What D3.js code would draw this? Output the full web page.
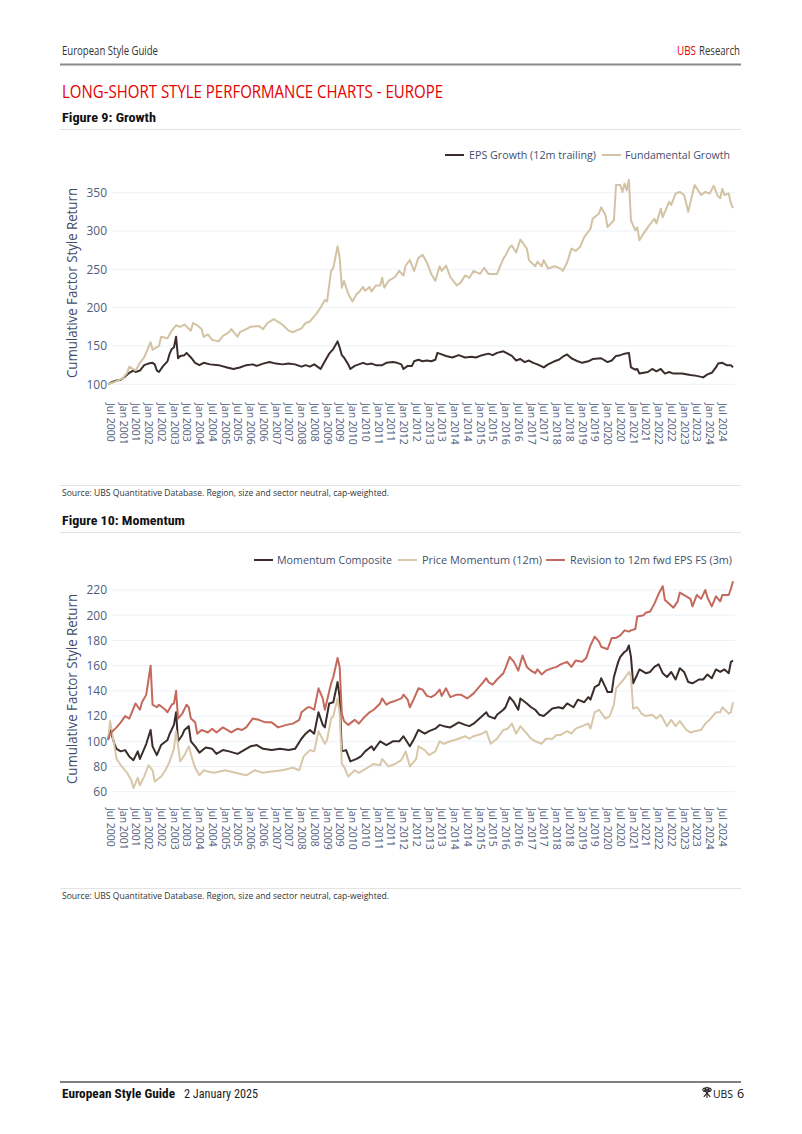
<!DOCTYPE html>
<html><head><meta charset="utf-8">
<script src="https://cdn.jsdelivr.net/npm/d3@7"></script>
<style>
body{margin:0;background:#fff;}
svg{display:block;}
text{font-family:"Open Sans","Noto Sans",sans-serif;}
.narrow{font-family:"Liberation Sans Narrow","Roboto Condensed","Open Sans",sans-serif;}
</style></head>
<body>
<svg id="page" width="802" height="1134"></svg>
<script>
// ---------------- DATA ----------------
const yTicksGrowth = [100, 150, 200, 250, 300, 350];
const yTicksMomentum = [60, 80, 100, 120, 140, 160, 180, 200, 220];
const xTickFirst = "2000-07", xTickLast = "2024-07", xTickStepMonths = 6;

const epsGrowth = [["2000-06",100],["2000-08",103],["2000-10",105],["2000-12",106],["2001-02",110],["2001-04",115],["2001-06",118],["2001-07",116],["2001-09",118],["2001-11",125],["2002-01",127],["2002-03",128],["2002-04",126],["2002-05",118],["2002-06",116],["2002-08",124],["2002-10",130],["2002-11",140],["2002-12",146],["2003-01",148],["2003-02",162],["2003-03",134],["2003-04",137],["2003-06",138],["2003-07",141],["2003-09",135],["2003-11",128],["2004-01",125],["2004-03",128],["2004-06",126],["2004-10",125],["2005-02",122],["2005-05",120],["2005-08",122],["2005-11",125],["2006-02",126],["2006-04",124],["2006-07",127],["2006-10",129],["2007-01",127],["2007-04",126],["2007-07",127],["2007-10",126],["2008-01",123],["2008-03",125],["2008-05",123],["2008-07",126],["2008-09",122],["2008-10",120],["2008-12",130],["2009-02",140],["2009-04",146],["2009-06",156],["2009-07",148],["2009-08",138],["2009-09",135],["2009-11",126],["2009-12",120],["2010-02",124],["2010-04",126],["2010-06",128],["2010-08",126],["2010-10",127],["2010-12",125],["2011-03",125],["2011-05",128],["2011-08",129],["2011-10",128],["2011-12",126],["2012-01",120],["2012-03",124],["2012-05",124],["2012-06",130],["2012-08",132],["2012-10",130],["2012-12",131],["2013-02",130],["2013-04",132],["2013-05",141],["2013-07",139],["2013-09",137],["2013-12",135],["2014-03",138],["2014-06",135],["2014-09",136],["2014-11",135],["2015-02",138],["2015-05",140],["2015-07",138],["2015-09",141],["2015-12",143],["2016-02",140],["2016-04",137],["2016-06",131],["2016-08",133],["2016-10",129],["2016-12",131],["2017-02",128],["2017-04",126],["2017-07",122],["2017-09",126],["2017-12",130],["2018-02",132],["2018-04",136],["2018-06",139],["2018-08",134],["2018-11",130],["2019-01",128],["2019-04",130],["2019-06",133],["2019-10",134],["2020-01",129],["2020-03",131],["2020-05",137],["2020-07",138],["2020-09",140],["2020-11",141],["2020-12",122],["2021-02",119],["2021-03",120],["2021-04",114],["2021-06",115],["2021-08",116],["2021-10",120],["2021-12",117],["2022-02",120],["2022-04",114],["2022-06",116],["2022-08",114],["2022-12",114],["2023-04",112],["2023-07",111],["2023-10",109],["2023-12",113],["2024-02",115],["2024-04",122],["2024-05",127],["2024-07",128],["2024-09",125],["2024-11",125],["2024-12",122]];

const fundamentalGrowth = [["2000-06",100],["2000-09",103],["2001-01",108],["2001-03",115],["2001-04",123],["2001-07",118],["2001-09",128],["2001-11",135],["2002-02",155],["2002-03",145],["2002-06",150],["2002-07",162],["2002-10",160],["2002-12",170],["2003-02",177],["2003-04",175],["2003-06",178],["2003-09",170],["2003-10",180],["2003-12",177],["2004-02",172],["2004-03",162],["2004-05",165],["2004-07",158],["2004-10",156],["2004-12",163],["2005-03",168],["2005-04",172],["2005-07",162],["2005-08",168],["2005-11",172],["2006-01",175],["2006-05",176],["2006-07",172],["2006-09",180],["2006-12",185],["2007-04",178],["2007-07",170],["2007-09",168],["2008-01",173],["2008-03",180],["2008-05",182],["2008-08",192],["2008-10",200],["2008-12",210],["2009-01",208],["2009-03",248],["2009-04",252],["2009-06",280],["2009-07",265],["2009-08",226],["2009-09",235],["2009-11",218],["2010-01",208],["2010-03",218],["2010-04",220],["2010-06",227],["2010-07",222],["2010-09",227],["2010-10",221],["2010-12",229],["2011-02",229],["2011-03",239],["2011-04",226],["2011-06",235],["2011-09",240],["2011-11",248],["2012-01",242],["2012-02",255],["2012-04",262],["2012-06",248],["2012-08",265],["2012-10",269],["2012-12",259],["2013-02",244],["2013-04",235],["2013-06",254],["2013-07",248],["2013-09",255],["2013-11",240],["2014-02",229],["2014-04",233],["2014-06",242],["2014-08",239],["2014-10",248],["2015-01",244],["2015-03",252],["2015-05",244],["2015-09",244],["2015-12",264],["2016-01",268],["2016-03",279],["2016-04",281],["2016-06",272],["2016-08",289],["2016-11",277],["2016-12",262],["2017-03",254],["2017-04",260],["2017-06",254],["2017-07",262],["2017-09",251],["2017-12",254],["2018-03",251],["2018-04",248],["2018-06",259],["2018-08",277],["2018-10",274],["2018-12",279],["2019-02",292],["2019-05",303],["2019-06",316],["2019-09",323],["2019-10",331],["2019-12",321],["2020-01",305],["2020-04",314],["2020-05",360],["2020-07",360],["2020-08",351],["2020-09",362],["2020-10",353],["2020-11",367],["2020-12",314],["2021-02",301],["2021-03",305],["2021-04",288],["2021-06",297],["2021-08",305],["2021-11",316],["2021-12",310],["2022-02",329],["2022-03",318],["2022-06",338],["2022-07",334],["2022-09",349],["2022-11",351],["2023-01",347],["2023-03",325],["2023-05",349],["2023-06",360],["2023-09",347],["2023-11",351],["2024-01",349],["2024-03",359],["2024-05",345],["2024-06",343],["2024-07",355],["2024-08",347],["2024-10",349],["2024-11",336],["2024-12",330]];

const momentumComposite = [["2000-06",101],["2000-07",109],["2000-09",98],["2000-10",94],["2000-12",92],["2001-02",93],["2001-04",88],["2001-06",85],["2001-08",92],["2001-09",86],["2001-11",94],["2001-12",98],["2002-02",109],["2002-03",96],["2002-05",89],["2002-07",97],["2002-10",101],["2002-11",106],["2003-01",113],["2003-02",123],["2003-03",100],["2003-05",105],["2003-06",109],["2003-08",112],["2003-09",100],["2003-11",96],["2004-01",91],["2004-04",95],["2004-07",94],["2004-09",90],["2004-12",93],["2005-03",92],["2005-07",90],["2005-10",93],["2006-01",96],["2006-04",97],["2006-07",94],["2006-11",93],["2007-03",94],["2007-07",93],["2007-10",94],["2008-01",102],["2008-03",106],["2008-05",109],["2008-07",106],["2008-09",123],["2008-11",113],["2008-12",111],["2009-02",130],["2009-04",131],["2009-06",147],["2009-07",135],["2009-08",92],["2009-10",93],["2009-12",84],["2010-03",86],["2010-05",88],["2010-07",92],["2010-10",96],["2010-11",93],["2011-02",100],["2011-05",97],["2011-08",100],["2011-11",100],["2012-01",104],["2012-04",96],["2012-06",102],["2012-08",109],["2012-11",106],["2013-01",108],["2013-04",110],["2013-06",113],["2013-08",112],["2013-11",111],["2014-01",113],["2014-03",115],["2014-06",113],["2014-08",112],["2014-10",114],["2015-02",120],["2015-04",123],["2015-05",120],["2015-08",118],["2015-09",121],["2015-12",125],["2016-01",127],["2016-03",135],["2016-05",131],["2016-07",125],["2016-08",134],["2016-11",130],["2017-01",127],["2017-03",125],["2017-05",121],["2017-07",120],["2017-09",123],["2017-11",126],["2018-02",127],["2018-04",126],["2018-06",130],["2018-09",127],["2018-11",133],["2019-02",131],["2019-04",135],["2019-05",133],["2019-07",143],["2019-09",145],["2019-10",150],["2019-12",143],["2020-01",139],["2020-03",139],["2020-04",151],["2020-06",163],["2020-07",167],["2020-09",171],["2020-10",172],["2020-11",176],["2020-12",167],["2021-01",146],["2021-03",153],["2021-04",157],["2021-07",154],["2021-09",155],["2021-11",159],["2022-01",161],["2022-03",154],["2022-05",151],["2022-07",155],["2022-09",149],["2022-11",158],["2023-01",155],["2023-03",147],["2023-05",146],["2023-08",149],["2023-10",149],["2023-12",153],["2024-02",150],["2024-04",157],["2024-06",155],["2024-08",157],["2024-10",154],["2024-11",163],["2024-12",164]];

const priceMomentum = [["2000-06",101],["2000-07",116],["2000-09",96],["2000-10",86],["2000-12",81],["2001-03",75],["2001-05",69],["2001-06",63],["2001-08",71],["2001-09",65],["2001-11",72],["2002-01",81],["2002-03",77],["2002-04",68],["2002-07",72],["2002-09",77],["2002-11",84],["2003-01",94],["2003-02",108],["2003-04",84],["2003-06",89],["2003-08",96],["2003-10",84],["2003-11",79],["2004-01",73],["2004-03",77],["2004-05",76],["2004-08",75],["2005-01",77],["2005-06",75],["2005-11",73],["2006-03",77],["2006-07",75],["2006-11",76],["2007-04",77],["2007-09",79],["2007-12",77],["2008-02",88],["2008-05",93],["2008-07",92],["2008-09",108],["2008-12",98],["2009-01",101],["2009-03",118],["2009-04",120],["2009-06",134],["2009-07",122],["2009-08",82],["2009-09",80],["2009-11",72],["2010-02",77],["2010-04",75],["2010-06",77],["2010-09",80],["2010-11",82],["2011-02",81],["2011-03",86],["2011-06",80],["2011-09",82],["2011-12",85],["2012-02",92],["2012-04",80],["2012-07",86],["2012-08",96],["2012-11",93],["2013-01",89],["2013-04",92],["2013-06",100],["2013-08",98],["2013-11",100],["2014-03",102],["2014-06",104],["2014-08",102],["2014-10",104],["2015-02",106],["2015-04",108],["2015-06",98],["2015-09",102],["2015-12",109],["2016-02",110],["2016-04",114],["2016-06",106],["2016-08",112],["2016-11",106],["2017-01",102],["2017-03",100],["2017-06",98],["2017-08",102],["2017-11",102],["2018-01",105],["2018-03",105],["2018-06",108],["2018-08",106],["2018-10",110],["2019-01",112],["2019-04",114],["2019-05",110],["2019-07",123],["2019-09",125],["2019-12",118],["2020-02",120],["2020-04",129],["2020-05",142],["2020-07",146],["2020-09",150],["2020-11",155],["2020-12",151],["2021-01",126],["2021-03",127],["2021-05",122],["2021-07",120],["2021-10",121],["2021-12",118],["2022-02",121],["2022-05",112],["2022-07",117],["2022-09",112],["2022-11",116],["2023-02",109],["2023-04",107],["2023-06",108],["2023-09",109],["2023-11",114],["2024-01",117],["2024-04",123],["2024-06",123],["2024-07",127],["2024-10",122],["2024-11",123],["2024-12",131]];

const revision12mFwd = [["2000-06",101],["2000-07",106],["2000-10",111],["2000-12",115],["2001-02",120],["2001-04",118],["2001-05",122],["2001-07",130],["2001-09",125],["2001-10",131],["2001-12",137],["2002-02",160],["2002-03",129],["2002-05",127],["2002-06",129],["2002-09",125],["2002-10",123],["2002-12",129],["2003-01",130],["2003-02",140],["2003-03",118],["2003-05",122],["2003-07",129],["2003-08",127],["2003-09",118],["2003-11",115],["2003-12",106],["2004-02",109],["2004-05",107],["2004-07",110],["2004-09",107],["2004-12",111],["2005-02",109],["2005-04",107],["2005-07",110],["2005-09",109],["2005-11",111],["2006-02",118],["2006-05",117],["2006-08",115],["2006-11",115],["2007-02",111],["2007-06",113],["2007-09",114],["2007-12",117],["2008-01",123],["2008-04",127],["2008-05",127],["2008-07",125],["2008-09",142],["2008-11",134],["2008-12",125],["2009-03",146],["2009-04",151],["2009-06",166],["2009-07",159],["2009-08",122],["2009-09",116],["2009-11",113],["2010-02",117],["2010-04",114],["2010-06",118],["2010-09",123],["2010-11",125],["2011-02",130],["2011-03",134],["2011-05",129],["2011-07",131],["2011-09",132],["2011-12",134],["2012-01",137],["2012-03",133],["2012-04",127],["2012-06",134],["2012-08",142],["2012-10",141],["2012-12",136],["2013-02",135],["2013-04",137],["2013-06",141],["2013-07",136],["2013-09",142],["2013-11",135],["2014-02",137],["2014-04",137],["2014-07",134],["2014-10",138],["2014-12",142],["2015-02",146],["2015-04",150],["2015-05",147],["2015-07",145],["2015-09",149],["2015-12",154],["2016-01",158],["2016-03",167],["2016-05",163],["2016-07",156],["2016-09",168],["2016-11",159],["2017-01",156],["2017-03",154],["2017-04",157],["2017-06",153],["2017-08",156],["2017-11",158],["2018-01",159],["2018-03",161],["2018-06",163],["2018-08",159],["2018-10",164],["2019-01",163],["2019-03",166],["2019-05",176],["2019-07",183],["2019-09",179],["2019-10",175],["2020-01",173],["2020-03",182],["2020-05",182],["2020-07",184],["2020-09",188],["2020-11",187],["2020-12",188],["2021-02",189],["2021-03",199],["2021-06",200],["2021-07",202],["2021-09",203],["2021-11",209],["2022-01",217],["2022-03",223],["2022-04",212],["2022-06",209],["2022-08",206],["2022-10",211],["2022-11",218],["2023-02",215],["2023-04",213],["2023-05",207],["2023-07",216],["2023-09",213],["2023-11",220],["2023-12",214],["2024-02",207],["2024-04",215],["2024-06",211],["2024-07",216],["2024-10",216],["2024-11",221],["2024-12",227]];

const growthSeries = [
  {name:"EPS Growth (12m trailing)", data: epsGrowth, color:"#3a2d2b"},
  {name:"Fundamental Growth", data: fundamentalGrowth, color:"#d3c3a4"}
];
const momentumSeries = [
  {name:"Momentum Composite", data: momentumComposite, color:"#3a2d2b"},
  {name:"Price Momentum (12m)", data: priceMomentum, color:"#d8c7a8"},
  {name:"Revision to 12m fwd EPS FS (3m)", data: revision12mFwd, color:"#c4695b"}
];

// ---------------- DRAW ----------------
const svg = d3.select("#page");
const parse = d3.timeParse("%Y-%m");
// shrink the font if the natural width is much wider than the target, then pin the width
function fit(sel, w, maxSquash = 1.04) {
  const len = sel.node().getComputedTextLength();
  if (len > w * maxSquash) {
    const fs = parseFloat(sel.attr("font-size"));
    sel.attr("font-size", (fs * w * maxSquash / len).toFixed(2));
  }
  return sel.attr("textLength", w).attr("lengthAdjust", "spacingAndGlyphs");
}

svg.append("rect").attr("width", 802).attr("height", 1134).attr("fill", "#fff");

// header
fit(svg.append("text").attr("x", 62).attr("y", 55).attr("font-size", 12).attr("fill", "#333").text("European Style Guide"), 96, 1.3);
fit(svg.append("text").attr("x", 677).attr("y", 55).attr("font-size", 12).attr("fill", "#e60000").text("UBS"), 19, 1.3);
fit(svg.append("text").attr("x", 699).attr("y", 55).attr("font-size", 12).attr("fill", "#333").text("Research"), 41, 1.3);
svg.append("line").attr("x1", 60).attr("x2", 741).attr("y1", 64.5).attr("y2", 64.5).attr("stroke", "#8a8a8a").attr("stroke-width", 2);

fit(svg.append("text").attr("x", 62).attr("y", 98).attr("font-size", 18).attr("fill", "#e60000").text("LONG-SHORT STYLE PERFORMANCE CHARTS - EUROPE"), 381, 1.35);

const x = d3.scaleTime().domain([parse("2000-06"), parse("2024-12")]).range([108, 733]);
const xTicks = d3.timeMonth.range(parse(xTickFirst), d3.timeMonth.offset(parse(xTickLast), 1), xTickStepMonths);

function figure(cfg) {
  // title + rules
  fit(svg.append("text").attr("class", "narrow").attr("x", 62).attr("y", cfg.titleY).attr("font-size", 13).attr("font-weight", "bold").attr("fill", "#111").text(cfg.title), cfg.titleW);
  svg.append("line").attr("x1", 60).attr("x2", 741).attr("y1", cfg.titleY + 7.5).attr("y2", cfg.titleY + 7.5).attr("stroke", "#e3e3e3").attr("stroke-width", 1);

  const y = d3.scaleLinear().domain(cfg.yDomain).range(cfg.yRange);

  // gridlines
  svg.append("g").selectAll("line").data(cfg.yTicks).join("line")
    .attr("x1", 112).attr("x2", 735)
    .attr("y1", d => y(d)).attr("y2", d => y(d))
    .attr("stroke", "#edf1f7").attr("stroke-width", 1);

  // y axis labels
  const ya = svg.append("g").attr("transform", "translate(107,0)")
    .call(d3.axisLeft(y).tickValues(cfg.yTicks).tickSize(0).tickPadding(0));
  ya.select(".domain").remove();
  ya.selectAll("text").attr("font-family", "'Open Sans',sans-serif").attr("font-size", 12).attr("fill", "#4f5d7d");

  // y title
  fit(svg.append("text").attr("transform", `translate(77,${cfg.yTitleC}) rotate(-90)`)
    .attr("text-anchor", "middle").attr("font-size", 14.5).attr("fill", "#3f4d6d")
    .text("Cumulative Factor Style Return"), 190);

  // x axis labels
  const xa = svg.append("g").attr("transform", `translate(0,${cfg.xLabelTop})`)
    .call(d3.axisBottom(x).tickValues(xTicks).tickFormat(d3.timeFormat("%b %Y")).tickSize(0));
  xa.select(".domain").remove();
  xa.selectAll("text")
    .attr("x", 0).attr("y", 0).attr("dy", "0.36em")
    .attr("transform", "rotate(90)")
    .style("text-anchor", "start")
    .attr("font-family", "'Open Sans',sans-serif").attr("font-size", 10.5).attr("fill", "#4f5d7d");

  // lines
  const line = d3.line().x(d => x(parse(d[0]))).y(d => y(d[1]));
  svg.append("g").selectAll("path").data(cfg.series).join("path")
    .attr("d", d => line(d.data)).attr("fill", "none")
    .attr("stroke", d => d.color).attr("stroke-width", 2)
    .attr("stroke-linejoin", "round");

  // legend
  const lg = svg.append("g");
  cfg.series.forEach((s, i) => {
    const L = cfg.legend[i];
    lg.append("line").attr("x1", L[0]).attr("x2", L[0] + 19).attr("y1", cfg.legendY).attr("y2", cfg.legendY)
      .attr("stroke", s.color).attr("stroke-width", 2);
    fit(lg.append("text").attr("x", L[1]).attr("y", cfg.legendY + 4).attr("font-size", 11.5).attr("fill", "#44506e").text(s.name), L[2]);
  });

  // source
  svg.append("line").attr("x1", 60).attr("x2", 741).attr("y1", cfg.sourceY - 10.5).attr("y2", cfg.sourceY - 10.5).attr("stroke", "#e3e3e3").attr("stroke-width", 1);
  fit(svg.append("text").attr("x", 62).attr("y", cfg.sourceY).attr("font-size", 9).attr("fill", "#333")
    .text("Source: UBS Quantitative Database. Region, size and sector neutral, cap-weighted."), 327);
}

figure({
  title: "Figure 9: Growth", titleY: 122, titleW: 94,
  yDomain: [100, 350], yRange: [384.3, 192.7], yTicks: yTicksGrowth, yTitleC: 283,
  xLabelTop: 403, series: growthSeries, legendY: 155,
  legend: [[445, 469, 127], [602, 625, 105]],
  sourceY: 496
});

figure({
  title: "Figure 10: Momentum", titleY: 525, titleW: 123,
  yDomain: [60, 220], yRange: [791.7, 590], yTicks: yTicksMomentum, yTitleC: 689,
  xLabelTop: 808, series: momentumSeries, legendY: 560,
  legend: [[254, 277, 115], [398, 422, 120], [546, 570, 162]],
  sourceY: 899
});

// footer
svg.append("line").attr("x1", 60).attr("x2", 741).attr("y1", 1082).attr("y2", 1082).attr("stroke", "#555").attr("stroke-width", 1.5);
fit(svg.append("text").attr("class", "narrow").attr("x", 62).attr("y", 1098).attr("font-size", 12.5).attr("font-weight", "bold").attr("fill", "#111").text("European Style Guide"), 113);
fit(svg.append("text").attr("class", "narrow").attr("x", 184).attr("y", 1098).attr("font-size", 12.5).attr("fill", "#222").text("2 January 2025"), 74);
// UBS keys logo (simplified)
const logo = svg.append("g").attr("transform", "translate(707,1093)").attr("stroke", "#222").attr("fill", "none").attr("stroke-width", 1.1);
[-40, 0, 40].forEach(a => {
  const g = logo.append("g").attr("transform", `rotate(${a})`);
  g.append("line").attr("x1", 0).attr("y1", -4.5).attr("x2", 0).attr("y2", 5);
  g.append("circle").attr("cx", 0).attr("cy", -4.2).attr("r", 1.5);
});
fit(svg.append("text").attr("x", 713).attr("y", 1098).attr("font-family", "'Liberation Serif',serif").attr("font-size", 12).attr("fill", "#111").text("UBS"), 20);
svg.append("text").attr("x", 737).attr("y", 1098).attr("font-family", "'Liberation Serif',serif").attr("font-size", 12.5).attr("fill", "#111").text("6");
</script>
</body></html>
